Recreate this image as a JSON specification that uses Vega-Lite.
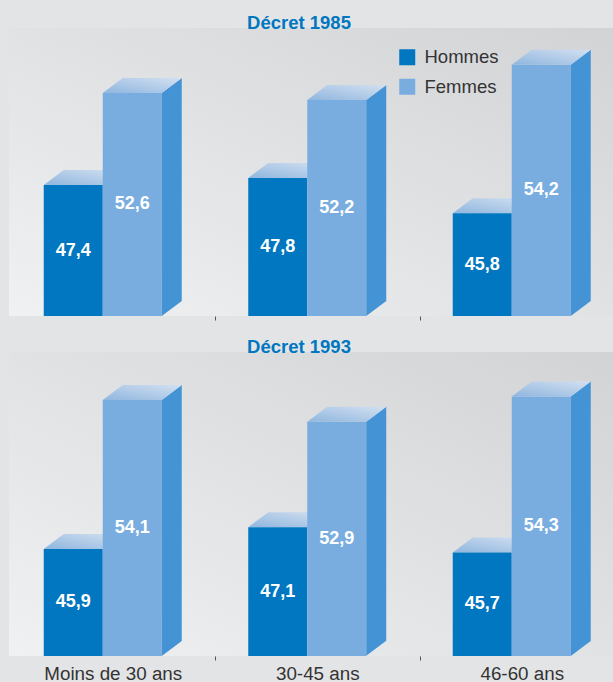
{
"$schema":"https://vega.github.io/schema/vega-lite/v6.json",
"background":"#E3E4E6",
"padding":{"left":9,"top":13,"right":0,"bottom":0},
"config":{"font":"Liberation Sans","view":{"stroke":null}},
"datasets":{"d":[
{"decret":"1985","groupe":"Moins de 30 ans","sexe":"Hommes","valeur":47.4,"libelle":"47,4"},
{"decret":"1985","groupe":"Moins de 30 ans","sexe":"Femmes","valeur":52.6,"libelle":"52,6"},
{"decret":"1985","groupe":"30-45 ans","sexe":"Hommes","valeur":47.8,"libelle":"47,8"},
{"decret":"1985","groupe":"30-45 ans","sexe":"Femmes","valeur":52.2,"libelle":"52,2"},
{"decret":"1985","groupe":"46-60 ans","sexe":"Hommes","valeur":45.8,"libelle":"45,8"},
{"decret":"1985","groupe":"46-60 ans","sexe":"Femmes","valeur":54.2,"libelle":"54,2"},
{"decret":"1993","groupe":"Moins de 30 ans","sexe":"Hommes","valeur":45.9,"libelle":"45,9"},
{"decret":"1993","groupe":"Moins de 30 ans","sexe":"Femmes","valeur":54.1,"libelle":"54,1"},
{"decret":"1993","groupe":"30-45 ans","sexe":"Hommes","valeur":47.1,"libelle":"47,1"},
{"decret":"1993","groupe":"30-45 ans","sexe":"Femmes","valeur":52.9,"libelle":"52,9"},
{"decret":"1993","groupe":"46-60 ans","sexe":"Hommes","valeur":45.7,"libelle":"45,7"},
{"decret":"1993","groupe":"46-60 ans","sexe":"Femmes","valeur":54.3,"libelle":"54,3"}
]},
"spacing":16,
"resolve":{"scale":{"color":"independent","shape":"independent"}},
"vconcat":[
{
"title":{"text":"Décret 1985","color":"#0077C0","fontSize":18.5,"fontWeight":"bold","anchor":"middle","dx":-12,"offset":-4},
"width":604,"height":288,
"view":{"fill":{"gradient":"linear","x1":0,"y1":1,"x2":1,"y2":0,"stops":[{"offset":0,"color":"#F0F1F2"},{"offset":1,"color":"#D2D3D5"}]},"stroke":null},
"data":{"name":"d"},
"transform":[{"filter":"datum.decret==='1985'"}],
"resolve":{"scale":{"y":"independent"}},
"encoding":{
"x":{"field":"groupe","type":"nominal","sort":["Moins de 30 ans","30-45 ans","46-60 ans"],"scale":{"range":[-8.5,605],"paddingInner":0,"paddingOuter":0},
"axis":{"title":null,"labels":false,"domain":false,"grid":false,"bandPosition":1,"tickExtra":false,"tickOffset":10,"tickSize":4,"tickWidth":1,"tickColor":"#555555"}},
"xOffset":{"field":"sexe","type":"nominal","sort":["Hommes","Femmes"],"scale":{"domain":["Hommes","Femmes"],"paddingInner":0,"paddingOuter":0.733}}
},
"layer":[
{"transform":[{"filter":"datum.sexe==='Hommes'"}],
"mark":{"type":"point","filled":true,"opacity":1,"size":4,"shape":"M-29.5,0L-9.5,-15L49.5,-15L29.5,0Z","fill":{"gradient":"linear","x1":0,"y1":1,"x2":1,"y2":0,"stops":[{"offset":0,"color":"#8FB6DF"},{"offset":1,"color":"#D3E0F0"}]}},
"encoding":{"y":{"field":"valeur","type":"quantitative","scale":{"domain":[40,56.27]},"axis":null}}},
{"mark":{"type":"bar"},
"encoding":{"y":{"field":"valeur","type":"quantitative","stack":null,"scale":{"domain":[40,56.27]},"axis":null},
"color":{"field":"sexe","type":"nominal","scale":{"domain":["Hommes","Femmes"],"range":["#0077C0","#7AADDF"]},
"legend":{"title":null,"orient":"none","legendX":389,"legendY":20,"symbolType":"square","symbolSize":256,"symbolOpacity":1,"symbolStrokeWidth":0,"labelFontSize":18.5,"labelColor":"#333333","labelFont":"Liberation Sans","labelOffset":8,"rowPadding":10.5,"labelLimit":200}}}},
{"transform":[{"filter":"datum.sexe==='Femmes'"}],
"mark":{"type":"point","filled":true,"opacity":1,"size":4,"color":"#4494D5"},
"encoding":{"y":{"field":"valeur","type":"quantitative","scale":{"domain":[40,56.27]},"axis":null},
"shape":{"field":"valeur","type":"nominal","legend":null,"scale":{"domain":[52.6,52.2,54.2],"range":["M29.5,0L49.5,-15L49.5,208L29.5,223Z","M29.5,0L49.5,-15L49.5,201L29.5,216Z","M29.5,0L49.5,-15L49.5,236.4L29.5,251.4Z"]}}}},
{"transform":[{"filter":"datum.sexe==='Femmes'"}],
"mark":{"type":"point","filled":true,"opacity":1,"size":4,"shape":"M-29.5,0L-9.5,-15L49.5,-15L29.5,0Z","fill":{"gradient":"linear","x1":0,"y1":1,"x2":1,"y2":0,"stops":[{"offset":0,"color":"#8FB6DF"},{"offset":1,"color":"#D3E0F0"}]}},
"encoding":{"y":{"field":"valeur","type":"quantitative","scale":{"domain":[40,56.27]},"axis":null}}},
{"mark":{"type":"text","color":"white","fontSize":18,"fontWeight":"bold","baseline":"middle"},
"encoding":{"y":{"field":"valeur","type":"quantitative","scale":{"domain":[40,72.54]},"axis":null},
"text":{"field":"libelle","type":"nominal"}}}
]
},
{
"title":{"text":"Décret 1993","color":"#0077C0","fontSize":18.5,"fontWeight":"bold","anchor":"middle","dx":-12,"offset":-4},
"width":604,"height":304,
"view":{"fill":{"gradient":"linear","x1":0,"y1":1,"x2":1,"y2":0,"stops":[{"offset":0,"color":"#F0F1F2"},{"offset":1,"color":"#D2D3D5"}]},"stroke":null},
"data":{"name":"d"},
"transform":[{"filter":"datum.decret==='1993'"}],
"resolve":{"scale":{"y":"independent"}},
"encoding":{
"x":{"field":"groupe","type":"nominal","sort":["Moins de 30 ans","30-45 ans","46-60 ans"],"scale":{"range":[-8.5,605],"paddingInner":0,"paddingOuter":0},
"axis":{"title":null,"labelAngle":0,"labelFontSize":18.8,"labelColor":"#333333","labelPadding":4,"domain":false,"grid":false,"bandPosition":1,"tickExtra":false,"tickOffset":10,"tickSize":4,"tickWidth":1,"tickColor":"#555555"}},
"xOffset":{"field":"sexe","type":"nominal","sort":["Hommes","Femmes"],"scale":{"domain":["Hommes","Femmes"],"paddingInner":0,"paddingOuter":0.733}}
},
"layer":[
{"transform":[{"filter":"datum.sexe==='Hommes'"}],
"mark":{"type":"point","filled":true,"opacity":1,"size":4,"shape":"M-29.5,0L-9.5,-15L49.5,-15L29.5,0Z","fill":{"gradient":"linear","x1":0,"y1":1,"x2":1,"y2":0,"stops":[{"offset":0,"color":"#8FB6DF"},{"offset":1,"color":"#D3E0F0"}]}},
"encoding":{"y":{"field":"valeur","type":"quantitative","scale":{"domain":[40,56.75]},"axis":null}}},
{"mark":{"type":"bar"},
"encoding":{"y":{"field":"valeur","type":"quantitative","stack":null,"scale":{"domain":[40,56.75]},"axis":null},
"color":{"field":"sexe","type":"nominal","scale":{"domain":["Hommes","Femmes"],"range":["#0077C0","#7AADDF"]},"legend":null}}},
{"transform":[{"filter":"datum.sexe==='Femmes'"}],
"mark":{"type":"point","filled":true,"opacity":1,"size":4,"color":"#4494D5"},
"encoding":{"y":{"field":"valeur","type":"quantitative","scale":{"domain":[40,56.75]},"axis":null},
"shape":{"field":"valeur","type":"nominal","legend":null,"scale":{"domain":[54.1,52.9,54.3],"range":["M29.5,0L49.5,-15L49.5,241L29.5,256Z","M29.5,0L49.5,-15L49.5,219L29.5,234Z","M29.5,0L49.5,-15L49.5,244.5L29.5,259.5Z"]}}}},
{"transform":[{"filter":"datum.sexe==='Femmes'"}],
"mark":{"type":"point","filled":true,"opacity":1,"size":4,"shape":"M-29.5,0L-9.5,-15L49.5,-15L29.5,0Z","fill":{"gradient":"linear","x1":0,"y1":1,"x2":1,"y2":0,"stops":[{"offset":0,"color":"#8FB6DF"},{"offset":1,"color":"#D3E0F0"}]}},
"encoding":{"y":{"field":"valeur","type":"quantitative","scale":{"domain":[40,56.75]},"axis":null}}},
{"mark":{"type":"text","color":"white","fontSize":18,"fontWeight":"bold","baseline":"middle"},
"encoding":{"y":{"field":"valeur","type":"quantitative","scale":{"domain":[40,73.5]},"axis":null},
"text":{"field":"libelle","type":"nominal"}}}
]
}
]
}
